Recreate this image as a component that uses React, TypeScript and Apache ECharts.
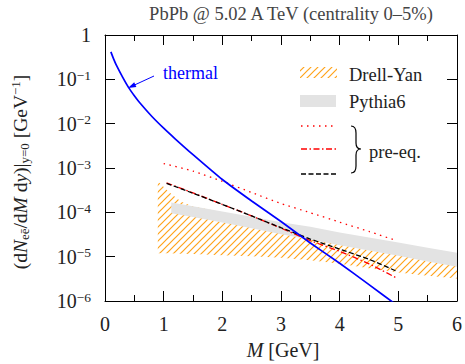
import React, { useEffect, useRef } from 'react';
import * as echarts from 'echarts';

// ---- data ----
const thermalM = [0.1, 0.15, 0.2, 0.3, 0.4, 0.5, 0.6, 0.8, 1.0, 1.2, 1.5, 2.0, 2.5, 3.0, 3.5, 4.0, 4.5, 5.0];
const thermalY = [0.417, 0.282, 0.2, 0.112, 0.066, 0.0427, 0.0288, 0.0145, 7.9e-3, 4.5e-3, 2.0e-3, 5.5e-4, 1.8e-4, 6.2e-5, 2.04e-5, 7.1e-6, 2.34e-6, 7.6e-7];

const preM = [1.05, 1.5, 2.0, 2.5, 3.0, 3.5, 4.0, 4.5, 4.97];
const preDottedM = [1.0, 1.5, 2.0, 2.5, 3.0, 3.5, 4.0, 4.5, 4.97];
const preDotted = [1.26e-3, 8.5e-4, 5.0e-4, 2.8e-4, 1.58e-4, 9.8e-5, 6.0e-5, 3.7e-5, 2.3e-5];
const preDashDot = [4.6e-4, 2.75e-4, 1.51e-4, 8.3e-5, 4.4e-5, 2.3e-5, 1.32e-5, 6.9e-6, 3.3e-6];
const preDashed = [4.5e-4, 2.7e-4, 1.51e-4, 8.3e-5, 4.5e-5, 2.5e-5, 1.48e-5, 8.7e-6, 4.7e-6];

const pyM = [1.13, 1.5, 2.0, 2.5, 3.0, 3.5, 4.0, 4.5, 5.0, 5.5, 6.0];
const pyLo = [9.5e-5, 7.8e-5, 5.9e-5, 4.4e-5, 3.2e-5, 2.45e-5, 1.82e-5, 1.38e-5, 1.05e-5, 7.8e-6, 5.9e-6];
const pyHi = [1.66e-4, 1.38e-4, 1.05e-4, 7.9e-5, 6.0e-5, 4.7e-5, 3.5e-5, 2.7e-5, 2.1e-5, 1.58e-5, 1.23e-5];

const dyM = [0.9, 1.1, 1.3, 1.5, 2.0, 2.5, 3.0, 3.5, 4.0, 4.5, 5.0, 5.5, 6.0];
const dyLo = [1.2e-5, 1.19e-5, 1.17e-5, 1.15e-5, 1.07e-5, 1.02e-5, 9.5e-6, 8.3e-6, 6.9e-6, 5.5e-6, 4.4e-6, 3.7e-6, 3.2e-6];
const dyHi = [5.0e-4, 2.8e-4, 1.74e-4, 1.35e-4, 1.0e-4, 7.1e-5, 5.0e-5, 3.5e-5, 2.5e-5, 1.78e-5, 1.32e-5, 1.0e-5, 7.6e-6];

const xTicks = { min: 0, max: 6, interval: 1 };
const yRange = { min: 1e-6, max: 1 };

const FONT = "'Liberation Serif', 'DejaVu Serif', serif";

const braceD = 'M351,126 Q356,126 356,133 L356,143 Q356,149 361,149 Q356,149 356,155 L356,166 Q356,173 351,173';

export default function App() {
  const ref = useRef<HTMLDivElement>(null);
  useEffect(() => {
    const el = ref.current!;
    try {
      echarts.graphic.registerShape('brace', echarts.graphic.extendPath(braceD, {}) as any);
    } catch (e) {}
    const chart = echarts.init(el, null, { renderer: 'svg' });

    const P = 7;
    const cv = document.createElement('canvas');
    cv.width = P; cv.height = P;
    const ctx = cv.getContext('2d')!;
    ctx.strokeStyle = '#ffa31a';
    ctx.lineWidth = 1.2;
    ctx.beginPath();
    ctx.moveTo(-1, P + 1); ctx.lineTo(P + 1, -1);
    ctx.moveTo(-1, 1); ctx.lineTo(1, -1);
    ctx.moveTo(P - 1, P + 1); ctx.lineTo(P + 1, P - 1);
    ctx.stroke();
    const hatch: any = { image: cv.toDataURL(), repeat: 'repeat', imageWidth: P, imageHeight: P };

    const band = (ms: number[], lo: number[], hi: number[], fill: any, z: number) => ({
      type: 'custom',
      coordinateSystem: 'cartesian2d',
      silent: true,
      z,
      data: [[ms[0], hi[0]]],
      renderItem: (params: any, api: any) => {
        const pts: number[][] = [];
        ms.forEach((m, i) => pts.push(api.coord([m, lo[i]])));
        for (let i = ms.length - 1; i >= 0; i--) pts.push(api.coord([ms[i], hi[i]]));
        return { type: 'polygon', shape: { points: pts }, style: { fill, stroke: 'none' } };
      },
    });

    const line = (ms: number[], ys: number[], color: string, width: number, type: any, z: number, smooth = 0.2) => ({
      type: 'line',
      data: ms.map((m, i) => [m, ys[i]]),
      symbol: 'none',
      smooth,
      silent: true,
      z,
      lineStyle: { color, width, type },
    });

    const axisCommon = {
      axisLine: { show: true, onZero: false, lineStyle: { color: '#000', width: 1 } },
      axisTick: { show: true, inside: true, length: 10, lineStyle: { color: '#000', width: 1 } },
      splitLine: { show: false },
    };

    const rich = {
      b: { fontFamily: FONT, fontSize: 20, color: '#222', lineHeight: 22 },
      s: { fontFamily: FONT, fontSize: 13.5, color: '#222', lineHeight: 12, verticalAlign: 'top' },
    };

    const option: any = {
      animation: false,
      grid: { left: 105, right: 5, top: 35, bottom: 63, containLabel: false },
      xAxis: [
        {
          type: 'value', ...xTicks, position: 'bottom', ...axisCommon,
          minorTick: { show: true, splitNumber: 2, length: 6, lineStyle: { color: '#000' } },
          minorSplitLine: { show: false },
          axisLabel: { fontFamily: FONT, fontSize: 20, color: '#222', margin: 13 },
        },
        {
          type: 'value', ...xTicks, position: 'top', ...axisCommon,
          minorTick: { show: true, splitNumber: 2, length: 6, lineStyle: { color: '#000' } },
          minorSplitLine: { show: false },
          axisLabel: { show: false },
        },
      ],
      yAxis: [
        {
          type: 'log', logBase: 10, ...yRange, position: 'left', ...axisCommon,
          axisLabel: {
            margin: 14,
            formatter: (v: number) => {
              const e = Math.round(Math.log10(v));
              return e === 0 ? '{b|1}' : `{b|10}{s|\u2212${-e}}`;
            },
            rich,
          },
        },
        {
          type: 'log', logBase: 10, ...yRange, position: 'right', ...axisCommon,
          axisLabel: { show: false },
        },
      ],
      series: [
        band(dyM, dyLo, dyHi, hatch, 1),
        band(pyM, pyLo, pyHi, '#e3e3e3', 2),
        line(preDottedM, preDotted, '#ff0000', 1.3, [1.5, 4.5], 4),
        line(preM, preDashDot, '#ff0000', 1.3, [6, 2.5, 1.5, 2.5], 4),
        line(preM, preDashed, '#000000', 1.3, [5, 2.5], 5),
        line(thermalM, thermalY, '#0000ff', 1.7, 'solid', 6),
      ],
      graphic: [
        {
          type: 'text', x: 291, y: 14,
          style: { text: 'PbPb @ 5.02 A TeV (centrality 0\u20135%)', fontFamily: FONT, fontSize: 18.5, fill: '#444', align: 'center', verticalAlign: 'middle' },
        },
        {
          type: 'text', x: 283, y: 350,
          style: {
            text: '{i|M} [GeV]', align: 'center', verticalAlign: 'middle',
            rich: {
              i: { fontFamily: FONT, fontSize: 20, fontStyle: 'italic', fill: '#222' },
            },
            fontFamily: FONT, fontSize: 20, fill: '#222',
          },
        },
        {
          type: 'text', x: 20, y: 172, rotation: Math.PI / 2,
          style: {
            text: '{n|(d}{i|N}{sub|e\u0113}{n|/d}{i|M}{n| d}{i|y}{n|)|}{sub|y=0}{n| [GeV}{sup|\u22121}{n|]}',
            align: 'center', verticalAlign: 'middle',
            rich: {
              n: { fontFamily: FONT, fontSize: 19.5, fill: '#222', lineHeight: 22 },
              i: { fontFamily: FONT, fontSize: 19.5, fontStyle: 'italic', fill: '#222', lineHeight: 22 },
              sub: { fontFamily: FONT, fontSize: 13, fill: '#222', lineHeight: 11, verticalAlign: 'bottom' },
              sup: { fontFamily: FONT, fontSize: 13, fill: '#222', lineHeight: 12, verticalAlign: 'top' },
            },
          },
        },
        // thermal annotation
        {
          type: 'text', x: 163, y: 73,
          style: { text: 'thermal', fontFamily: FONT, fontSize: 18, fill: '#0000ff', align: 'left', verticalAlign: 'middle' },
        },
        { type: 'line', shape: { x1: 154, y1: 76, x2: 133, y2: 85.7 }, style: { stroke: '#0000ff', lineWidth: 1 } },
        { type: 'polygon', shape: { points: [[128, 88], [136.4, 86.9], [134.2, 82.3]] }, style: { fill: '#0000ff' } },
        // legend
        { type: 'rect', shape: { x: 300, y: 67, width: 37, height: 11 }, style: { fill: hatch } },
        { type: 'text', x: 349, y: 75, style: { text: 'Drell-Yan', fontFamily: FONT, fontSize: 18.5, fill: '#222', verticalAlign: 'middle' } },
        { type: 'rect', shape: { x: 300, y: 95, width: 36, height: 12 }, style: { fill: '#e3e3e3' } },
        { type: 'text', x: 349, y: 102, style: { text: 'Pythia6', fontFamily: FONT, fontSize: 18.5, fill: '#222', verticalAlign: 'middle' } },
        { type: 'line', shape: { x1: 301, y1: 126, x2: 337, y2: 126 }, style: { stroke: '#ff0000', lineWidth: 1.3, lineDash: [1.5, 4.5] } },
        { type: 'line', shape: { x1: 301, y1: 149, x2: 337, y2: 149 }, style: { stroke: '#ff0000', lineWidth: 1.3, lineDash: [6, 2.5, 1.5, 2.5] } },
        { type: 'line', shape: { x1: 301, y1: 174, x2: 337, y2: 174 }, style: { stroke: '#000000', lineWidth: 1.3, lineDash: [5, 2.5] } },
        { type: 'brace', x: 0, y: 0, style: { fill: 'none', stroke: '#000', lineWidth: 1.2 } },
        { type: 'text', x: 369, y: 152, style: { text: 'pre-eq.', fontFamily: FONT, fontSize: 18.5, fill: '#222', verticalAlign: 'middle' } },
      ],
    };
    chart.setOption(option);
    return () => chart.dispose();
  }, []);
  return <div ref={ref} style={{ width: 465, height: 364, position: 'absolute', left: 0, top: 0 }} />;
}
